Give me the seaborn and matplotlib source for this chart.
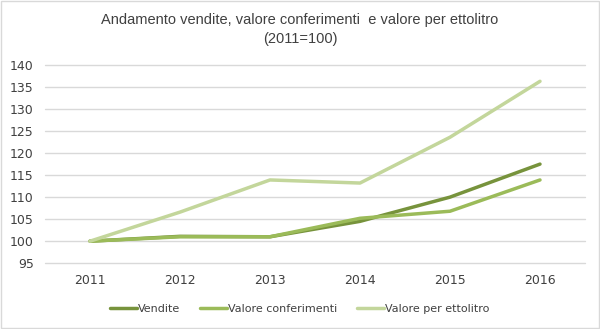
import matplotlib
matplotlib.use("Agg")
import matplotlib.pyplot as plt
import seaborn as sns
import pandas as pd
from matplotlib.lines import Line2D

years = ["2011", "2012", "2013", "2014", "2015", "2016"]
vendite = [100, 101.1, 101.0, 104.5, 110.0, 117.5]
conferimenti = [100, 101.0, 101.0, 105.2, 106.8, 113.9]
ettolitro = [100, 106.6, 113.9, 113.2, 123.6, 136.3]
series_names = ["Vendite", "Valore conferimenti", "Valore per ettolitro"]
colors = ["#77933C", "#9BBB59", "#C3D69B"]

sns.set_theme(style="white")
plt.rcParams['font.family'] = ['DejaVu Sans']

df = pd.DataFrame({
    "year": years * 3,
    "value": vendite + conferimenti + ettolitro,
    "series": [series_names[0]] * 6 + [series_names[1]] * 6 + [series_names[2]] * 6,
})

fig = plt.figure(figsize=(6.0, 3.29), dpi=100)
ax = fig.add_axes([0.075, 0.2, 0.9, 0.6024])
sns.lineplot(data=df, x="year", y="value", hue="series", palette=colors,
             hue_order=series_names, linewidth=2.5, ax=ax, legend=False, sort=False)

ax.set_xlim(-0.5, 5.5)
ax.set_ylim(95, 140)
ax.set_yticks(range(95, 141, 5))
ax.grid(axis="y", color="#D9D9D9", linewidth=1)
for gl in ax.get_ygridlines():
    gl.set_clip_on(False)
ax.set_axisbelow(True)
for s in ax.spines.values():
    s.set_visible(False)
ax.set_xlabel("")
ax.set_ylabel("")
ax.tick_params(axis="both", length=0, labelsize=9, labelcolor="#404040")
ax.tick_params(axis="x", pad=8)
ax.tick_params(axis="y", pad=8)

fig.text(0.5, 0.94, "Andamento vendite, valore conferimenti  e valore per ettolitro",
         ha="center", va="center", fontsize=10.5, color="#404040", family="Liberation Sans")
fig.text(0.5, 0.88, "(2011=100)", ha="center", va="center", fontsize=10.5,
         color="#404040", family="Liberation Sans")

handles = [Line2D([0], [0], color=c, linewidth=2.5) for c in colors]
fig.legend(handles, series_names, loc="center", bbox_to_anchor=(0.5, 0.062), ncol=3,
           frameon=False, fontsize=8, handlelength=2.4, handletextpad=0.1,
           columnspacing=1.8, labelcolor="#404040")

fig.patches.append(plt.Rectangle((0.002, 0.003), 0.996, 0.994, transform=fig.transFigure,
                                 fill=False, edgecolor="#D9D9D9", linewidth=1))
fig.savefig("out.png", dpi=100)
